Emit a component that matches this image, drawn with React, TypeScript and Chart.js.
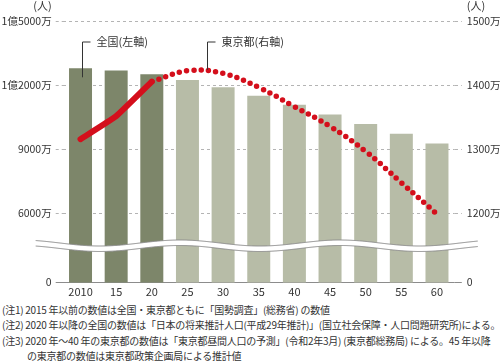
import React, { useEffect, useRef } from 'react';
import { Chart, registerables } from 'chart.js';

Chart.register(...registerables);

// ---- data (万人) ----
const categories = ['2010', '15', '20', '25', '30', '35', '40', '45', '50', '55', '60'];
const nationalPop = [12806, 12709, 12532, 12254, 11913, 11522, 11092, 10642, 10192, 9744, 9284];
const tokyoActual = [1316, 1352, 1406, null, null, null, null, null, null, null, null];
const tokyoProjected = [null, null, 1406, 1423, 1419, 1397, 1367, 1336, 1297, 1248, 1199];
const lastActualIndex = 2;

const leftTickValues = [6000, 9000, 12000, 15000];
const leftTickLabels = ['6000万', '9000万', '1億2000万', '1億5000万'];
const rightTickValues = [1200, 1300, 1400, 1500];
const rightTickLabels = ['1200万', '1300万', '1400万', '1500万'];
// value that the broken axis' "0" stands for
const leftAxisFloor = 2766;
const rightAxisFloor = 1092;

const nationalLabel = '全国(左軸)';
const tokyoLabel = '東京都(右軸)';
const unitLabel = '(人)';

const notes = [
  '(注1) 2015 年以前の数値は全国・東京都ともに「国勢調査」(総務省) の数値',
  '(注2) 2020 年以降の全国の数値は「日本の将来推計人口(平成29年推計)」(国立社会保障・人口問題研究所)による。',
  '(注3) 2020 年～40 年の東京都の数値は「東京都昼間人口の予測」(令和2年3月) (東京都総務局) による。45 年以降',
];
const noteContinuation = 'の東京都の数値は東京都政策企画局による推計値';

const FONT = '"Noto Sans CJK JP", "Noto Sans", sans-serif';
const TEXT = '#333333';
const DARK_BAR = '#7d866a';
const LIGHT_BAR = '#b7bca7';
const RED = '#d40f1c';
const GRID = '#b4b4b4';
const ZERO = '#8c8c8c';

const decorations = {
  id: 'decorations',
  afterDatasetsDraw(chart: any) {
    const { ctx, chartArea, scales } = chart;
    const yL = scales.yL;
    const y0 = yL.getPixelForValue(leftAxisFloor);
    const base = y0 - 39.5;
    const x1 = chartArea.left - 27;
    const x2 = chartArea.right + 23;
    const wave = (px: number) => base - 3 * Math.cos((2 * Math.PI * (px - 180)) / 160);
    const gap = 5.5;
    ctx.save();
    ctx.beginPath();
    for (let px = x1; px <= x2; px += 1) {
      if (px === x1) ctx.moveTo(px, wave(px));
      else ctx.lineTo(px, wave(px));
    }
    for (let px = x2; px >= x1; px -= 1) ctx.lineTo(px, wave(px) + gap);
    ctx.closePath();
    ctx.fillStyle = '#ffffff';
    ctx.fill();
    ctx.strokeStyle = '#8a8a8a';
    ctx.lineWidth = 1;
    for (const off of [0, gap]) {
      ctx.beginPath();
      for (let px = x1; px <= x2; px += 1) {
        if (px === x1) ctx.moveTo(px, wave(px) + off);
        else ctx.lineTo(px, wave(px) + off);
      }
      ctx.stroke();
    }
    ctx.restore();
  },
  afterDraw(chart: any) {
    const { ctx, chartArea, scales } = chart;
    const x = scales.x;
    const yL = scales.yL;
    const yR = scales.yR;
    const topY = chartArea.top + 20.5;
    ctx.save();
    ctx.strokeStyle = '#333';
    ctx.lineWidth = 1;
    ctx.fillStyle = TEXT;
    ctx.font = `11px ${FONT}`;
    ctx.textBaseline = 'middle';
    ctx.textAlign = 'left';

    // national callout
    const nx = Math.round(x.getPixelForValue(0) + 1) + 0.5;
    const nBottom = yL.getPixelForValue(nationalPop[0]) + 9;
    ctx.beginPath();
    ctx.moveTo(nx + 8, topY);
    ctx.lineTo(nx, topY);
    ctx.lineTo(nx, nBottom);
    ctx.stroke();
    ctx.fillText(nationalLabel, nx + 14, topY);

    // tokyo callout
    const tx = Math.round(x.getPixelForValue(3) + 0.55 * (x.getPixelForValue(4) - x.getPixelForValue(3))) + 0.5;
    const peak = Math.max(...(tokyoProjected.filter((v) => v !== null) as number[]));
    const tBottom = yR.getPixelForValue(peak) - 1;
    ctx.beginPath();
    ctx.moveTo(tx + 8, topY);
    ctx.lineTo(tx, topY);
    ctx.lineTo(tx, tBottom);
    ctx.stroke();
    ctx.fillText(tokyoLabel, tx + 14, topY);

    // unit labels
    ctx.textAlign = 'right';
    ctx.fillText(unitLabel, chartArea.left - 11, chartArea.top - 16);
    ctx.textAlign = 'left';
    ctx.fillText(unitLabel, chartArea.right + 12, chartArea.top - 16);
    ctx.restore();
  },
};

export default function App() {
  const ref = useRef<HTMLCanvasElement>(null);
  useEffect(() => {
    if (!ref.current) return;
    const gridColor = (c: any) => (c.index === 0 ? ZERO : GRID);
    const gridDash = (c: any) => (c.index === 0 ? [] : [3, 3]);
    const chart = new Chart(ref.current, {
      type: 'bar',
      data: {
        labels: categories,
        datasets: [
          {
            type: 'line',
            data: tokyoProjected,
            yAxisID: 'yR',
            borderColor: RED,
            borderWidth: 5.5,
            borderDash: [0, 7.3],
            borderCapStyle: 'round',
            pointRadius: 0,
            tension: 0.4,
            order: 0,
          } as any,
          {
            type: 'line',
            data: tokyoActual,
            yAxisID: 'yR',
            borderColor: RED,
            borderWidth: 6,
            borderCapStyle: 'round',
            borderJoinStyle: 'round',
            pointRadius: 0,
            tension: 0.1,
            order: 1,
          } as any,
          {
            type: 'bar',
            data: nationalPop,
            yAxisID: 'yL',
            backgroundColor: nationalPop.map((_, i) => (i <= lastActualIndex ? DARK_BAR : LIGHT_BAR)),
            barPercentage: 0.645,
            categoryPercentage: 1,
            order: 2,
          } as any,
        ],
      },
      options: {
        responsive: false,
        animation: false,
        devicePixelRatio: 1,
        layout: { padding: { top: 21.5, left: 0, right: 0, bottom: 0 } },
        plugins: { legend: { display: false }, tooltip: { enabled: false } },
        scales: {
          x: {
            offset: true,
            grid: { display: false, drawTicks: false },
            border: { display: false },
            ticks: { color: TEXT, font: { size: 11, family: FONT }, padding: 3, maxRotation: 0, autoSkip: false },
            afterFit: (s: any) => {
              s.height = 17.5;
            },
          },
          yL: {
            position: 'left',
            min: leftAxisFloor,
            max: 15000,
            afterBuildTicks: (s: any) => {
              s.ticks = [leftAxisFloor, ...leftTickValues].map((v) => ({ value: v }));
            },
            ticks: {
              color: TEXT,
              font: { size: 10.5, family: FONT },
              padding: 4,
              callback: (_v: any, i: number) => (i === 0 ? '0' : leftTickLabels[i - 1]),
            },
            grid: { color: gridColor, tickColor: gridColor, tickLength: 7, tickBorderDash: gridDash },
            border: { display: false, dash: gridDash },
            afterFit: (s: any) => {
              s.width = 62.7;
            },
          },
          yR: {
            position: 'right',
            min: rightAxisFloor,
            max: 1500,
            afterBuildTicks: (s: any) => {
              s.ticks = [rightAxisFloor, ...rightTickValues].map((v) => ({ value: v }));
            },
            ticks: {
              color: TEXT,
              font: { size: 10.5, family: FONT },
              padding: 5,
              callback: (_v: any, i: number) => (i === 0 ? '0' : rightTickLabels[i - 1]),
            },
            grid: { drawOnChartArea: false, color: gridColor, tickColor: gridColor, tickLength: 7, tickBorderDash: gridDash },
            border: { display: false },
            afterFit: (s: any) => {
              s.width = 45.2;
            },
          },
        },
      } as any,
      plugins: [decorations],
    });
    return () => chart.destroy();
  }, []);

  return (
    <div style={{ position: 'absolute', left: 0, top: 0, width: 500, height: 361, background: '#fff', overflow: 'hidden' }}>
      <canvas ref={ref} width={500} height={300} style={{ display: 'block' }} />
      <div
        style={{
          position: 'absolute',
          left: 2,
          top: 302,
          fontFamily: FONT,
          fontSize: 10,
          lineHeight: '15.3px',
          letterSpacing: '-0.25px',
          color: TEXT,
          whiteSpace: 'nowrap',
        }}
      >
        {notes.map((n) => (
          <div key={n}>{n}</div>
        ))}
        <div style={{ paddingLeft: 25 }}>{noteContinuation}</div>
      </div>
    </div>
  );
}
